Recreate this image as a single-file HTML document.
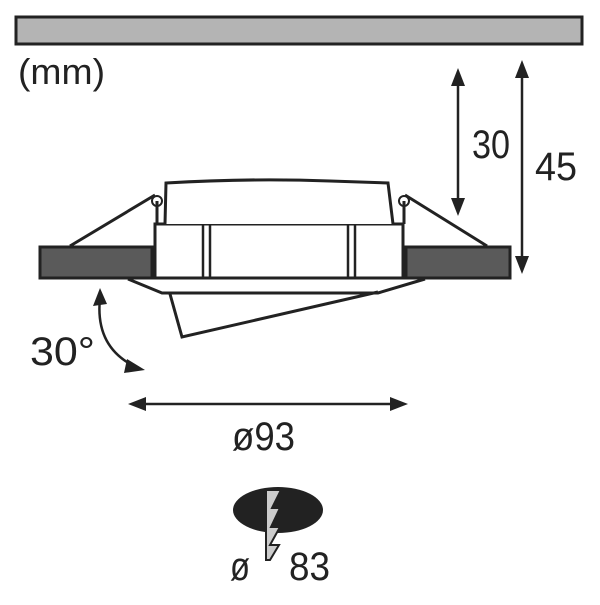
<!DOCTYPE html>
<html><head><style>body{margin:0;background:#fff}</style></head><body>
<svg width="600" height="600" viewBox="0 0 600 600" xmlns="http://www.w3.org/2000/svg" font-family="Liberation Sans, sans-serif">
<rect x="16" y="17" width="566" height="27" fill="#b4b4b4" stroke="#222" stroke-width="3"/>
<text x="18" y="84" font-size="36" fill="#222" textLength="87" lengthAdjust="spacingAndGlyphs">(mm)</text>
<g stroke="#222" stroke-width="3" fill="none">
<rect x="40" y="247" width="112" height="31" fill="#5a5a5a"/>
<rect x="406" y="247" width="104" height="31" fill="#5a5a5a"/>
<path d="M70 246 L155 195 M405 195 L487 246"/>
<rect x="155" y="224" width="248" height="54" fill="#fff"/>
<path d="M165 224 L166 183 Q250 178 330 181 L388 183 L393 224" fill="#fff"/>
<path d="M203 224 V278 M210 224 V278 M348 224 V278 M355 224 V278" stroke-width="2.5"/>
<circle cx="157" cy="201" r="5" fill="#fff" stroke-width="2"/>
<circle cx="404" cy="201" r="5" fill="#fff" stroke-width="2"/>
<path d="M157 201 V224 M404 201 V224"/>
<path d="M128 279 L162 293 L378 293 L425 279"/>
<path d="M170 294 L182 337 L378 292"/>
<path d="M458 78 V208 M522 70 V266" stroke-width="2.5"/>
<path d="M135 404 H400" stroke-width="2.5"/>
<path d="M132 365 Q95 345 100 298" stroke-width="2.5"/>
</g>
<g fill="#222">
<polygon points="458,68 451,86 465,86"/><polygon points="458,216 451,198 465,198"/>
<polygon points="522,60 515,78 529,78"/><polygon points="522,274 515,256 529,256"/>
<polygon points="128,404 146,397 146,411"/><polygon points="408,404 390,397 390,411"/>
<polygon points="100,288 93,306 107,304"/><polygon points="145,370 127,359 124,373"/>
</g>
<g font-size="40" fill="#222" lengthAdjust="spacingAndGlyphs">
<text x="472" y="158" textLength="38" lengthAdjust="spacingAndGlyphs">30</text>
<text x="535" y="180" textLength="42" lengthAdjust="spacingAndGlyphs">45</text>
<text x="30" y="365" textLength="65" lengthAdjust="spacingAndGlyphs">30°</text>
<text x="232" y="450" textLength="63" lengthAdjust="spacingAndGlyphs">ø93</text>
<text x="230" y="580" textLength="20" lengthAdjust="spacingAndGlyphs">ø</text>
<text x="289" y="580" textLength="41" lengthAdjust="spacingAndGlyphs">83</text>
</g>
<ellipse cx="278" cy="510" rx="45" ry="23" fill="#222"/>
<polygon points="266,490 281,490 272,508 280,508 271,527 280,527 270,545 279,545 270,560 266,560" fill="#ccc" stroke="#222" stroke-width="2"/>
</svg>
</body></html>
